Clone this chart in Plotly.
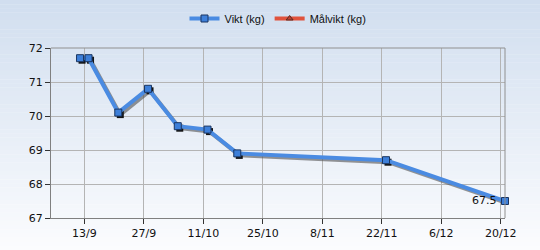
import plotly.graph_objects as go
from datetime import datetime, timedelta

dates = ["2010-09-12", "2010-09-14", "2010-09-21", "2010-09-28", "2010-10-05",
         "2010-10-12", "2010-10-19", "2010-11-23", "2010-12-21"]
vikt = [71.7, 71.7, 70.1, 70.8, 69.7, 69.6, 68.9, 68.7, 67.5]
tick_dates = ["2010-09-13", "2010-09-27", "2010-10-11", "2010-10-25",
              "2010-11-08", "2010-11-22", "2010-12-06", "2010-12-20"]
tick_labels = ["13/9", "27/9", "11/10", "25/10", "8/11", "22/11", "6/12", "20/12"]
y_ticks = [67, 68, 69, 70, 71, 72]

x0 = datetime(2010, 9, 5, 4)
x1 = datetime(2010, 12, 21, 0)
y0, y1 = 67, 72

W, H = 540, 250
ml, mr, mt, mb = 51, 35, 48, 32
pw = W - ml - mr
ph = H - mt - mb
days_per_px = (x1 - x0).total_seconds() / 86400 / pw
kg_per_px = (y1 - y0) / ph

sx = timedelta(days=2 * days_per_px)
sy = 2 * kg_per_px

fig = go.Figure()

# gradient background
N = 60
top = (209, 222, 239)
bot = (251, 252, 254)
for i in range(N):
    t = i / (N - 1)
    c = tuple(round(top[k] + (bot[k] - top[k]) * t) for k in range(3))
    fig.add_shape(type="rect", xref="paper", yref="paper",
                  x0=-ml / pw, x1=1 + mr / pw,
                  y0=1 + mt / ph - (i + 1) * (H / N) / ph - 0.002,
                  y1=1 + mt / ph - i * (H / N) / ph,
                  fillcolor="rgb(%d,%d,%d)" % c, line_width=0, layer="below")

# invisible trace so the base axes (grid, ticks) are drawn
fig.add_trace(go.Scatter(x=dates, y=vikt, mode="markers", marker=dict(opacity=0),
                         showlegend=False, hoverinfo="skip"))

# shadow trace on shifted axes
fig.add_trace(go.Scatter(x=dates, y=vikt, xaxis="x2", yaxis="y2", mode="lines+markers",
                         line=dict(color="rgba(80,80,80,0.6)", width=4),
                         marker=dict(symbol="square", size=7, color="rgb(20,20,20)"),
                         showlegend=False, hoverinfo="skip", cliponaxis=False))

fig.add_trace(go.Scatter(x=dates, y=vikt, xaxis="x3", yaxis="y3",
                         mode="lines+markers", name="Vikt (kg)", cliponaxis=False,
                         line=dict(color="#4a8be2", width=4),
                         marker=dict(symbol="square", size=7, color="#3d7fd9",
                                     line=dict(color="#1a3560", width=1))))
fig.add_trace(go.Scatter(x=[None], y=[None], xaxis="x3", yaxis="y3",
                         mode="lines+markers", name="Målvikt (kg)",
                         line=dict(color="#e0523c", width=4),
                         marker=dict(symbol="triangle-up", size=6, color="#c04030",
                                     line=dict(color="#5a2a20", width=1))))

fig.add_annotation(x=dates[-1], y=vikt[-1], xref="x3", yref="y3",
                   text=str(vikt[-1]), showarrow=False,
                   xanchor="right", yanchor="middle", xshift=-6, yshift=1,
                   font=dict(family="DejaVu Sans", size=11, color="#111"))

axfont = dict(family="DejaVu Sans", size=11, color="#111")
fig.update_layout(
    width=W, height=H, margin=dict(l=ml, r=mr, t=mt, b=mb, autoexpand=False),
    paper_bgcolor="rgba(0,0,0,0)", plot_bgcolor="rgba(0,0,0,0)",
    showlegend=True,
    legend=dict(orientation="h", x=0.5, xanchor="center", y=1 + (mt - 4) / ph,
                yanchor="top", font=dict(family="Liberation Sans", size=11, color="#111"),
                bgcolor="rgba(0,0,0,0)", itemwidth=30, tracegroupgap=0),
    xaxis=dict(type="date", range=[x0, x1], tickvals=tick_dates, ticktext=tick_labels,
               showgrid=True, gridcolor="#b4b4b4", gridwidth=1,
               showline=True, linecolor="#808080", linewidth=1,
               mirror=False, ticks="outside", ticklen=5, tickcolor="#333",
               tickfont=axfont, zeroline=False),
    yaxis=dict(range=[y0, y1], tickvals=y_ticks, showgrid=True, gridcolor="#b4b4b4",
               showline=True, linecolor="#808080", linewidth=1,
               ticks="outside", ticklen=5, tickcolor="#333",
               tickfont=axfont, zeroline=False),
    xaxis2=dict(type="date", overlaying="x", range=[x0 - sx, x1 - sx], visible=False),
    yaxis2=dict(overlaying="y", range=[y0 + sy, y1 + sy], visible=False),
    xaxis3=dict(type="date", overlaying="x", range=[x0, x1], visible=False),
    yaxis3=dict(overlaying="y", range=[y0, y1], visible=False),
)

# top and right border
fig.add_shape(type="line", xref="paper", yref="paper", x0=0, x1=1, y0=1, y1=1,
              line=dict(color="#909090", width=1))
fig.add_shape(type="line", xref="paper", yref="paper", x0=1, x1=1, y0=0, y1=1,
              line=dict(color="#909090", width=1))

fig.write_html("out.html")
